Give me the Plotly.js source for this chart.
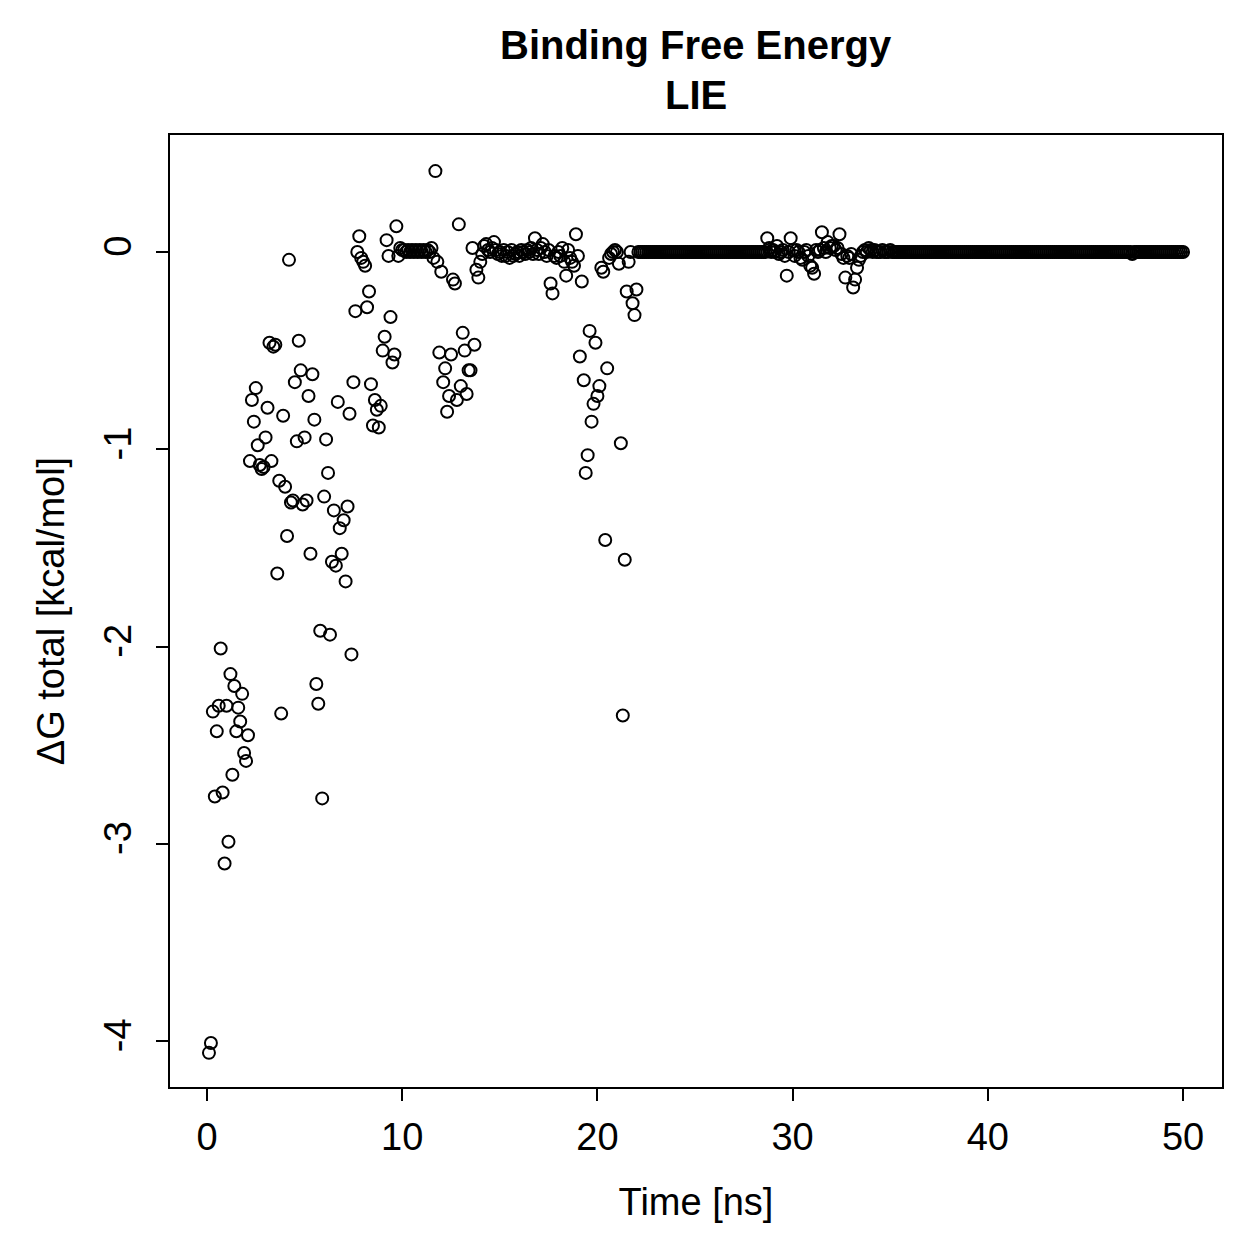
<!DOCTYPE html>
<html>
<head>
<meta charset="utf-8">
<script src="https://cdn.plot.ly/plotly-3.0.1.min.js"></script>
<style>html,body{margin:0;padding:0;background:#fff;}#chart{width:1259px;height:1259px;}</style>
</head>
<body>
<div id="chart"></div>
<script>
// Sampling interval of the trajectory (ns); one value every 0.1 ns from 0.1 to 50.0
var timeStep = 0.1;

// ΔG total [kcal/mol], in blocks of 10 ns
var dG_00_10 = [
  -4.06, -4.01, -2.33, -2.76, -2.43, -2.30, -2.01, -2.74, -3.10, -2.30,
  -2.99, -2.14, -2.65, -2.20, -2.43, -2.31, -2.38, -2.24, -2.54, -2.58,
  -2.45, -1.06, -0.75, -0.86, -0.69, -0.98, -1.08, -1.10, -1.09, -0.94,
  -0.79, -0.46, -1.06, -0.48, -0.47, -1.63, -1.16, -2.34, -0.83, -1.19,
  -1.44, -0.04, -1.27, -1.26, -0.66, -0.96, -0.45, -0.60, -1.28, -0.94,
  -1.26, -0.73, -1.53, -0.62, -0.85, -2.19, -2.29, -1.92, -2.77, -1.24,
  -0.95, -1.12, -1.94, -1.57, -1.31, -1.59, -0.76, -1.40, -1.53, -1.36,
  -1.67, -1.29, -0.82, -2.04, -0.66, -0.30, 0.00, 0.08, -0.03, -0.05,
  -0.07, -0.28, -0.20, -0.67, -0.88, -0.75, -0.80, -0.89, -0.78, -0.50,
  -0.43, 0.06, -0.02, -0.33, -0.56, -0.52, 0.13, -0.02, 0.02, 0.01
];
var dG_10_20 = [
  0.01, 0.00, 0.01, 0.00, 0.01, 0.00, 0.01, 0.00, 0.01, 0.00,
  0.01, 0.00, 0.01, 0.00, 0.02, -0.03, 0.41, -0.05, -0.51, -0.10,
  -0.66, -0.59, -0.81, -0.73, -0.52, -0.14, -0.16, -0.75, 0.14, -0.68,
  -0.41, -0.50, -0.72, -0.60, -0.60, 0.02, -0.47, -0.09, -0.13, -0.05,
  -0.01, 0.03, 0.04, 0.01, 0.00, 0.02, 0.05, 0.01, -0.01, 0.00,
  -0.02, 0.01, -0.02, 0.00, -0.03, 0.01, -0.02, -0.01, 0.00, -0.02,
  0.01, 0.00, -0.01, 0.01, 0.00, 0.02, -0.01, 0.07, 0.01, -0.01,
  0.02, 0.04, 0.00, -0.02, 0.01, -0.16, -0.21, -0.02, -0.03, 0.00,
  -0.02, 0.02, -0.05, -0.12, 0.01, -0.03, -0.05, -0.07, 0.09, -0.02,
  -0.53, -0.15, -0.65, -1.12, -1.03, -0.40, -0.86, -0.77, -0.46, -0.73
];
var dG_20_30 = [
  -0.68, -0.08, -0.10, -1.46, -0.59, -0.03, -0.01, 0.00, 0.01, 0.00,
  -0.06, -0.97, -2.35, -1.56, -0.20, -0.05, 0.00, -0.26, -0.32, -0.19,
  0.00, 0.00, 0.00, 0.00, 0.00, 0.00, 0.00, 0.00, 0.00, 0.00,
  0.00, 0.00, 0.00, 0.00, 0.00, 0.00, 0.00, 0.00, 0.00, 0.00,
  0.00, 0.00, 0.00, 0.00, 0.00, 0.00, 0.00, 0.00, 0.00, 0.00,
  0.00, 0.00, 0.00, 0.00, 0.00, 0.00, 0.00, 0.00, 0.00, 0.00,
  0.00, 0.00, 0.00, 0.00, 0.00, 0.00, 0.00, 0.00, 0.00, 0.00,
  0.00, 0.00, 0.00, 0.00, 0.00, 0.00, 0.00, 0.00, 0.00, 0.00,
  0.00, 0.00, 0.00, 0.00, 0.00, 0.00, 0.07, 0.02, 0.00, 0.01,
  0.00, 0.03, -0.01, 0.00, 0.01, -0.02, -0.12, 0.00, 0.07, 0.01
];
var dG_30_40 = [
  -0.02, 0.01, 0.00, -0.03, -0.04, 0.00, 0.01, -0.02, -0.07, -0.08,
  -0.11, 0.01, 0.00, 0.01, 0.10, 0.02, 0.00, 0.05, 0.02, 0.03,
  0.03, 0.01, 0.02, 0.09, -0.01, -0.03, -0.13, -0.02, -0.03, -0.01,
  -0.18, -0.14, -0.08, -0.04, -0.02, 0.00, 0.01, 0.00, 0.02, 0.01,
  0.00, 0.01, 0.00, 0.00, 0.00, 0.01, 0.00, 0.00, 0.00, 0.01,
  0.00, 0.00, 0.00, 0.00, 0.00, 0.00, 0.00, 0.00, 0.00, 0.00,
  0.00, 0.00, 0.00, 0.00, 0.00, 0.00, 0.00, 0.00, 0.00, 0.00,
  0.00, 0.00, 0.00, 0.00, 0.00, 0.00, 0.00, 0.00, 0.00, 0.00,
  0.00, 0.00, 0.00, 0.00, 0.00, 0.00, 0.00, 0.00, 0.00, 0.00,
  0.00, 0.00, 0.00, 0.00, 0.00, 0.00, 0.00, 0.00, 0.00, 0.00
];
var dG_40_50 = [
  0.00, 0.00, 0.00, 0.00, 0.00, 0.00, 0.00, 0.00, 0.00, 0.00,
  0.00, 0.00, 0.00, 0.00, 0.00, 0.00, 0.00, 0.00, 0.00, 0.00,
  0.00, 0.00, 0.00, 0.00, 0.00, 0.00, 0.00, 0.00, 0.00, 0.00,
  0.00, 0.00, 0.00, 0.00, 0.00, 0.00, 0.00, 0.00, 0.00, 0.00,
  0.00, 0.00, 0.00, 0.00, 0.00, 0.00, 0.00, 0.00, 0.00, 0.00,
  0.00, 0.00, 0.00, 0.00, 0.00, 0.00, 0.00, 0.00, 0.00, 0.00,
  0.00, 0.00, 0.00, 0.00, 0.00, 0.00, 0.00, 0.00, 0.00, 0.00,
  0.00, 0.00, 0.00, -0.01, 0.00, 0.00, 0.00, 0.00, 0.00, 0.00,
  0.00, 0.00, 0.00, 0.00, 0.00, 0.00, 0.00, 0.00, 0.00, 0.00,
  0.00, 0.00, 0.00, 0.00, 0.00, 0.00, 0.00, 0.00, 0.00, 0.00
];

var xTicks = [0, 10, 20, 30, 40, 50];
var yTicks = [0, -1, -2, -3, -4];
var yTickLabels = ["0", "-1", "-2", "-3", "-4"];
var titleLines = ["Binding Free Energy", "LIE"];

var dG = dG_00_10.concat(dG_10_20, dG_20_30, dG_30_40, dG_40_50);
var time = dG.map(function (_, i) { return Math.round((i + 1) * timeStep * 10) / 10; });

var FONT = "Liberation Sans, Arial, Helvetica, sans-serif";

var trace = {
  type: "scatter",
  mode: "markers",
  x: time,
  y: dG,
  marker: {
    symbol: "circle-open",
    size: 12,
    color: "#000",
    line: { width: 2, color: "#000" }
  },
  hoverinfo: "skip"
};

var axisCommon = {
  showgrid: false,
  zeroline: false,
  showline: true,
  mirror: true,
  linecolor: "#000",
  linewidth: 2,
  ticks: "outside",
  ticklen: 12,
  tickwidth: 2,
  tickcolor: "#000",
  tickfont: { family: FONT, size: 38, color: "#000" }
};

var layout = {
  width: 1259,
  height: 1259,
  margin: { l: 170, r: 37, t: 135, b: 172 },
  paper_bgcolor: "#fff",
  plot_bgcolor: "#fff",
  showlegend: false,
  font: { family: FONT, color: "#000" },
  annotations: [
    {
      text: "<b>" + titleLines[0] + "</b>",
      xref: "paper", yref: "paper", x: 0.5, y: (1087 - 45) / 952,
      xanchor: "center", yanchor: "middle", showarrow: false,
      font: { family: FONT, size: 40, color: "#000" }
    },
    {
      text: "<b>" + titleLines[1] + "</b>",
      xref: "paper", yref: "paper", x: 0.5, y: (1087 - 95) / 952,
      xanchor: "center", yanchor: "middle", showarrow: false,
      font: { family: FONT, size: 40, color: "#000" }
    }
  ],
  xaxis: Object.assign({}, axisCommon, {
    range: [-1.896, 51.996],
    tickmode: "array",
    tickvals: xTicks,
    ticktext: xTicks.map(String),
    ticklabelstandoff: 3,
    title: { text: "Time [ns]", font: { family: FONT, size: 38, color: "#000" }, standoff: 32 }
  }),
  yaxis: Object.assign({}, axisCommon, {
    range: [-4.233, 0.593],
    tickmode: "array",
    tickvals: yTicks,
    ticktext: yTickLabels,
    tickangle: -90,
    ticklabelstandoff: 10,
    title: { text: "ΔG total [kcal/mol]", font: { family: FONT, size: 38, color: "#000" }, standoff: 20 }
  })
};

Plotly.newPlot("chart", [trace], layout, { staticPlot: true, displayModeBar: false });
</script>
</body>
</html>
